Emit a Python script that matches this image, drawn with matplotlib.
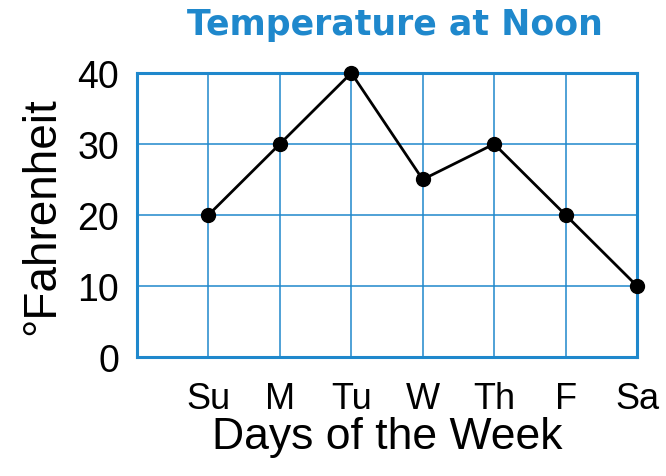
"""
Temperature at noon line chart
"""
import matplotlib.pyplot as plt

days = ['Su', 'M', 'Tu', 'W', 'Th', 'F', 'Sa']
temps = [20, 30, 40, 25, 30, 20, 10]
y_ticks = [0, 10, 20, 30, 40]

blue = '#1f88cc'

plt.rcParams['font.family'] = ['Liberation Sans', 'DejaVu Sans']

fig = plt.figure(figsize=(6.66, 4.77), dpi=100)
ax = fig.add_axes([0.2057, 0.2495, 0.7508, 0.5954])

x = list(range(1, len(days) + 1))
ax.plot(x, temps, color='black', linewidth=2.0, marker='o', markersize=10,
        zorder=5, clip_on=False)

ax.set_xlim(0, len(days))
ax.set_ylim(0, 40)
ax.set_xticks(x)
ax.set_xticklabels(days)
ax.set_yticks(y_ticks)
ax.grid(True, color=blue, linewidth=1.1)
ax.set_axisbelow(True)
for s in ax.spines.values():
    s.set_color(blue)
    s.set_linewidth(2.2)
ax.tick_params(axis='both', length=0)
ax.tick_params(axis='x', pad=17, labelsize=26)
ax.tick_params(axis='y', pad=13, labelsize=27)

ax.set_xlabel('Days of the Week', fontsize=32, labelpad=0)
ax.set_ylabel('°Fahrenheit', fontsize=33, labelpad=9)
fig.text(0.593, 0.948, 'Temperature at Noon', ha='center', va='center',
         fontsize=25, fontweight='bold', color=blue, family='DejaVu Sans')

fig.savefig('out.png', dpi=100)
